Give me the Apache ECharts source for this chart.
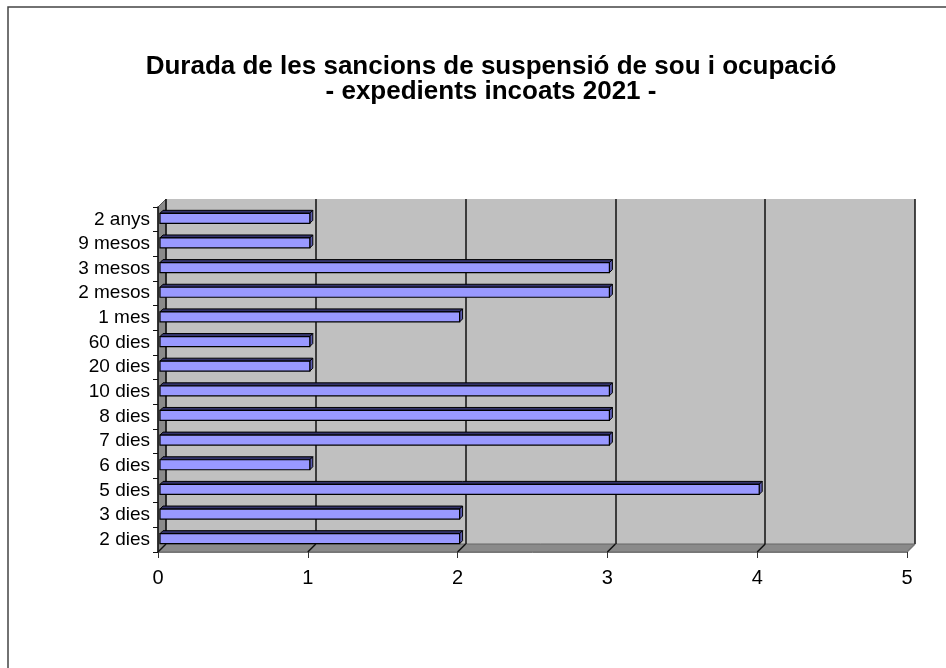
<!DOCTYPE html>
<html>
<head>
<meta charset="utf-8">
<script src="https://cdn.jsdelivr.net/npm/echarts@6/dist/echarts.min.js"></script>
<style>
  html, body { margin: 0; padding: 0; background: #fff; }
  #chart { width: 946px; height: 668px; }
</style>
</head>
<body>
<div id="chart"></div>
<script>
var categories = ['2 dies', '3 dies', '5 dies', '6 dies', '7 dies', '8 dies', '10 dies',
  '20 dies', '60 dies', '1 mes', '2 mesos', '3 mesos', '9 mesos', '2 anys']
var values = [2, 2, 4, 1, 3, 3, 3, 1, 1, 2, 3, 3, 1, 1]
var valueTicks = [0, 1, 2, 3, 4, 5]

// plot box (front plane) and 3D depth offset
var L = 158, T = 207, W = 749, H = 345, D = 8
var font = 'Liberation Sans, Arial, sans-serif'

var chart = echarts.init(document.getElementById('chart'))

var graphics = [
  // chart border (only left and top edges are inside the picture)
  { type: 'rect', shape: { x: 8, y: 7, width: 1000, height: 700 }, style: { fill: 'none', stroke: '#444', lineWidth: 1.5 }, z: 0 },
  // left wall
  { type: 'polygon', shape: { points: [[L, T], [L + D, T - D], [L + D, T + H - D], [L, T + H]] },
    style: { fill: '#8a8a8a', stroke: '#555', lineWidth: 1 }, z: 1 },
  // floor
  { type: 'polygon', shape: { points: [[L, T + H], [L + D, T + H - D], [L + W + D, T + H - D], [L + W, T + H]] },
    style: { fill: '#8a8a8a', stroke: '#666', lineWidth: 1 }, z: 1 }
]
// gridlines running across the floor
valueTicks.forEach(function (t) {
  var x = L + W * t / 5
  graphics.push({ type: 'line', shape: { x1: x, y1: T + H, x2: x + D, y2: T + H - D },
    style: { stroke: t === 5 ? '#777' : '#111', lineWidth: 1.5 }, z: 2 })
})

const option = {
  animation: false,
  title: {
    text: 'Durada de les sancions de suspensió de sou i ocupació\n- expedients incoats 2021 -',
    left: 486,
    top: 49,
    textAlign: 'center',
    textStyle: {
      fontFamily: font,
      fontSize: 26,
      fontWeight: 'bold',
      color: '#000',
      lineHeight: 25
    }
  },
  graphic: graphics,
  grid: [
    { left: L, top: T, width: W, height: H },
    // back wall
    { left: L + D, top: T - D, width: W, height: H, show: true, backgroundColor: '#c0c0c0', borderWidth: 0, z: 0 }
  ],
  xAxis: [
    {
      type: 'value', gridIndex: 0, min: 0, max: 5, interval: 1,
      axisLine: { show: true, lineStyle: { color: '#777', width: 1 } },
      axisTick: { show: true, length: 6, lineStyle: { color: '#333' } },
      axisLabel: { margin: 16, fontSize: 20, color: '#000', fontFamily: font },
      splitLine: { show: false },
      z: 3
    },
    {
      type: 'value', gridIndex: 1, min: 0, max: 5, interval: 1,
      axisLine: { show: false }, axisTick: { show: false }, axisLabel: { show: false },
      splitLine: { show: true, lineStyle: { color: '#111', width: 1.5 } },
      z: 1
    }
  ],
  yAxis: [
    {
      type: 'category', gridIndex: 0, data: categories,
      axisLine: { show: true, lineStyle: { color: '#111', width: 1.5 } },
      axisTick: { show: true, length: 5, lineStyle: { color: '#111' } },
      axisLabel: { interval: 0, margin: 8, fontSize: 19, color: '#000', fontFamily: font },
      z: 3
    },
    {
      type: 'category', gridIndex: 1, data: categories,
      axisLine: { show: false }, axisTick: { show: false }, axisLabel: { show: false }
    }
  ],
  series: [
    {
      type: 'custom',
      xAxisIndex: 0,
      yAxisIndex: 0,
      z: 5,
      data: values.map(function (v, i) { return [v, i] }),
      renderItem: function (params, api) {
        var start = api.coord([0, api.value(1)])
        var end = api.coord([api.value(0), api.value(1)])
        var y = start[1]
        var x0 = start[0] + 2
        var x1 = end[0] + 2
        var d = 3
        var top = y - 6
        var bot = y + 4
        return {
          type: 'group',
          children: [
            { type: 'polygon', shape: { points: [[x0, top], [x0 + d, top - d], [x1 + d, top - d], [x1, top]] },
              style: { fill: '#33336b', stroke: '#000', lineWidth: 1 } },
            { type: 'polygon', shape: { points: [[x1, top], [x1 + d, top - d], [x1 + d, bot - d], [x1, bot]] },
              style: { fill: '#5c5cb0', stroke: '#000', lineWidth: 1 } },
            { type: 'rect', shape: { x: x0, y: top, width: x1 - x0, height: bot - top },
              style: { fill: '#9999ff', stroke: '#000', lineWidth: 1.2 } }
          ]
        }
      }
    }
  ]
}

chart.setOption(option)
</script>
</body>
</html>
